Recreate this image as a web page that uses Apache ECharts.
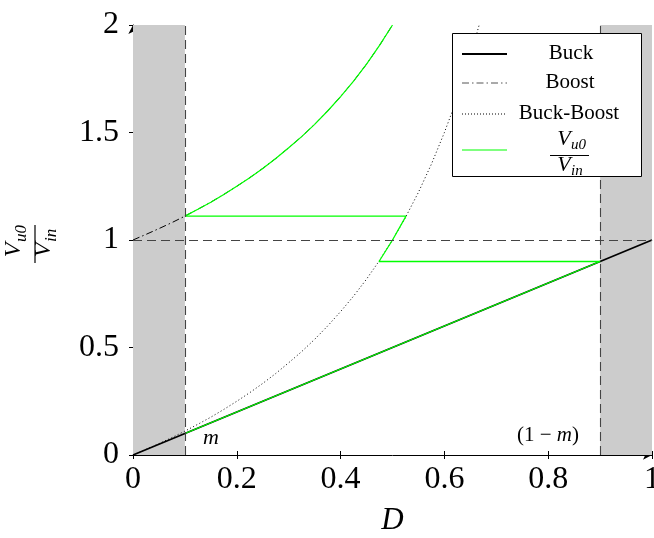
<!DOCTYPE html>
<html>
<head>
<meta charset="utf-8">
<script src="https://cdn.jsdelivr.net/npm/echarts@6/dist/echarts.min.js"></script>
<style>html,body{margin:0;padding:0;background:#fff}#c{width:654px;height:538px}</style>
</head>
<body>
<div id="c"></div>
<script>
// ---- data ----
const buckD = [0, 0.1, 0.5, 0.9, 1];
const buckV = [0, 0.1, 0.5, 0.9, 1];
const boostD = [0, 0.025, 0.05, 0.075, 0.1, 0.125, 0.15, 0.175, 0.2, 0.225, 0.25, 0.275, 0.3, 0.325, 0.35, 0.375, 0.4, 0.425, 0.45, 0.475, 0.5];
const boostV = [1, 1.026, 1.053, 1.081, 1.111, 1.143, 1.176, 1.212, 1.25, 1.29, 1.333, 1.379, 1.429, 1.481, 1.538, 1.6, 1.667, 1.739, 1.818, 1.905, 2];
const bbD = [0, 0.025, 0.05, 0.075, 0.1, 0.125, 0.15, 0.175, 0.2, 0.225, 0.25, 0.275, 0.3, 0.325, 0.35, 0.375, 0.4, 0.425, 0.45, 0.475, 0.5, 0.525, 0.55, 0.575, 0.6, 0.615, 0.63, 0.645, 0.655, 0.667];
const bbV = [0, 0.026, 0.053, 0.081, 0.111, 0.143, 0.176, 0.212, 0.25, 0.29, 0.333, 0.379, 0.429, 0.481, 0.538, 0.6, 0.667, 0.739, 0.818, 0.905, 1, 1.105, 1.222, 1.353, 1.5, 1.597, 1.703, 1.817, 1.899, 2];
const vUpperD = [0.1, 0.125, 0.15, 0.175, 0.2, 0.225, 0.25, 0.275, 0.3, 0.325, 0.35, 0.375, 0.4, 0.425, 0.45, 0.475, 0.5];
const vUpperV = [1.111, 1.143, 1.176, 1.212, 1.25, 1.29, 1.333, 1.379, 1.429, 1.481, 1.538, 1.6, 1.667, 1.739, 1.818, 1.905, 2];
const vPathD = [0.1, 0.526, 0.5, 0.474, 0.9, 0.1];
const vPathV = [1.111, 1.111, 1, 0.9, 0.9, 0.1];
const grayZones = [[0, 0.1], [0.9, 1]];
const dashX = [0.1, 0.9];
const dashY = [1];
const xTickLabels = ['0', '0.2', '0.4', '0.6', '0.8', '1'];
const yTickLabels = ['0', '0.5', '1', '1.5', '2'];

const pair = (a, b) => a.map((v, i) => [v, b[i]]);
const F = 'Liberation Serif';
const chart = echarts.init(document.getElementById('c'));

function axisCommon(extra) {
  return Object.assign({
    type: 'value',
    splitLine: { show: false }
  }, extra);
}

const TOP = 100;
function legendItems() {
  const c = [
    { type: 'rect', shape: { x: 452.5, y: 33.5, width: 189, height: 143 }, style: { fill: '#fff', stroke: '#000', lineWidth: 1 } },
    { type: 'line', shape: { x1: 462, y1: 54, x2: 507, y2: 54 }, style: { stroke: '#000', lineWidth: 1.8 } },
    { type: 'line', shape: { x1: 462, y1: 83, x2: 507, y2: 83 }, style: { stroke: '#555', lineWidth: 1, lineDash: [7, 3, 1.5, 3] } },
    { type: 'line', shape: { x1: 462, y1: 114, x2: 507, y2: 114 }, style: { stroke: '#000', lineWidth: 1, lineDash: [1, 2] } },
    { type: 'line', shape: { x1: 462, y1: 150, x2: 507, y2: 150 }, style: { stroke: '#00ff00', lineWidth: 1.2 } },
    { type: 'text', x: 571, y: 53, style: { text: 'Buck', font: '21px ' + F, fill: '#000', textAlign: 'center', textVerticalAlign: 'middle' } },
    { type: 'text', x: 570, y: 82, style: { text: 'Boost', font: '21px ' + F, fill: '#000', textAlign: 'center', textVerticalAlign: 'middle' } },
    { type: 'text', x: 569, y: 113, style: { text: 'Buck-Boost', font: '21px ' + F, fill: '#000', textAlign: 'center', textVerticalAlign: 'middle' } },
    { type: 'text', x: 564, y: 150, style: { text: 'V', font: 'italic 22px ' + F, fill: '#000', textAlign: 'center', textVerticalAlign: 'bottom' } },
    { type: 'text', x: 571, y: 153, style: { text: 'u0', font: 'italic 15px ' + F, fill: '#000', textAlign: 'left', textVerticalAlign: 'bottom' } },
    { type: 'line', shape: { x1: 550, y1: 155.5, x2: 589, y2: 155.5 }, style: { stroke: '#000', lineWidth: 1 } },
    { type: 'text', x: 564, y: 176, style: { text: 'V', font: 'italic 22px ' + F, fill: '#000', textAlign: 'center', textVerticalAlign: 'bottom' } },
    { type: 'text', x: 571, y: 179, style: { text: 'in', font: 'italic 15px ' + F, fill: '#000', textAlign: 'left', textVerticalAlign: 'bottom' } }
  ];
  c.forEach(e => { e.z = TOP; e.zlevel = 1; });
  return c;
}

const opt = {
  animation: false,
  backgroundColor: '#fff',
  grid: { left: 133, right: 2, top: 25, bottom: 83, containLabel: false, outerBoundsMode: 'none' },
  xAxis: [
    axisCommon({
      min: 0, max: 1, interval: 0.2,
      axisLine: { lineStyle: { color: '#000', width: 1 }, symbol: ['none', 'arrow'], symbolSize: [7, 9] },
      axisTick: { show: true, length: 4, lineStyle: { color: '#000' } },
      axisLabel: { color: '#000', fontFamily: F, fontSize: 32, margin: 9,
        formatter: v => xTickLabels[Math.round(v / 0.2)] },
      name: 'D', nameLocation: 'middle', nameGap: 50,
      nameTextStyle: { color: '#000', fontFamily: F, fontSize: 31, fontStyle: 'italic' }
    }),
    axisCommon({
      min: 0, max: 1, interval: 0.2, position: 'bottom',
      axisLine: { show: false },
      axisTick: { show: true, inside: true, length: 4, lineStyle: { color: '#000' } },
      axisLabel: { show: false }
    })
  ],
  yAxis: [
    axisCommon({
      min: 0, max: 2, interval: 0.5,
      axisLine: { show: true, lineStyle: { color: '#000', width: 1 }, symbol: ['none', 'arrow'], symbolSize: [7, 9] },
      axisTick: { show: true, length: 4, lineStyle: { color: '#000' } },
      axisLabel: { color: '#000', fontFamily: F, fontSize: 32, margin: 14,
        formatter: v => yTickLabels[Math.round(v / 0.5)] }
    }),
    axisCommon({
      min: 0, max: 2, interval: 0.5, position: 'left',
      axisLine: { show: false },
      axisTick: { show: true, inside: true, length: 4, lineStyle: { color: '#000' } },
      axisLabel: { show: false }
    })
  ],
  series: [
    {
      type: 'line', data: [], z: 1,
      markArea: {
        silent: true,
        itemStyle: { color: '#cccccc' },
        data: grayZones.map(z => [{ xAxis: z[0] }, { xAxis: z[1] }])
      },
      markLine: {
        silent: true, symbol: 'none', label: { show: false },
        lineStyle: { color: '#444', width: 1.1, type: [9, 5] },
        data: dashX.map(x => ({ xAxis: x })).concat(dashY.map(y => ({ yAxis: y })))
      }
    },
    {
      name: 'Buck', type: 'line', data: pair(buckD, buckV), showSymbol: false, z: 3,
      lineStyle: { color: '#000', width: 1.8 }
    },
    {
      name: 'Boost', type: 'line', data: pair(boostD, boostV), showSymbol: false, z: 3,
      lineStyle: { color: '#000', width: 1, type: [7, 3, 1.5, 3] }
    },
    {
      name: 'Buck-Boost', type: 'line', data: pair(bbD, bbV), showSymbol: false, z: 3,
      lineStyle: { color: '#000', width: 1, type: [1, 2.5] }
    },
    {
      name: 'V1', type: 'line', data: pair(vUpperD, vUpperV), showSymbol: false, z: 4,
      lineStyle: { color: '#00ff00', width: 1.2 }
    },
    {
      name: 'V2', type: 'line', data: pair(vPathD, vPathV), showSymbol: false, z: 4,
      lineStyle: { color: '#00ff00', width: 1.3 }
    }
  ],
  graphic: [
    {
      type: 'group', x: 36, y: 244, rotation: Math.PI / 2,
      children: [
        { type: 'text', x: -6, y: -10, style: { text: 'V', font: 'italic 24px ' + F, fill: '#000', textAlign: 'center', textVerticalAlign: 'bottom' } },
        { type: 'text', x: 2, y: -6, style: { text: 'u0', font: 'italic 17px ' + F, fill: '#000', textAlign: 'left', textVerticalAlign: 'bottom' } },
        { type: 'line', shape: { x1: -19, y1: -1, x2: 19, y2: -1 }, style: { stroke: '#000', lineWidth: 1.2 } },
        { type: 'text', x: -6, y: 20, style: { text: 'V', font: 'italic 24px ' + F, fill: '#000', textAlign: 'center', textVerticalAlign: 'bottom' } },
        { type: 'text', x: 2, y: 24, style: { text: 'in', font: 'italic 17px ' + F, fill: '#000', textAlign: 'left', textVerticalAlign: 'bottom' } }
      ]
    },
    { type: 'text', x: 211, y: 438, z: 10, style: { text: 'm', font: 'italic 22px ' + F, fill: '#000', textAlign: 'center', textVerticalAlign: 'middle' } },
    {
      type: 'text', x: 548, y: 435, z: 10,
      style: {
        text: '{a|(1 \u2212 }{b|m}{a|)}',
        rich: {
          a: { font: '21px ' + F, fill: '#000' },
          b: { font: 'italic 21px ' + F, fill: '#000' }
        },
        textAlign: 'center', textVerticalAlign: 'middle'
      }
    },
    { type: 'group', zlevel: 1, z: TOP, children: legendItems() }
  ]
};
chart.setOption(opt);
</script>
</body>
</html>
